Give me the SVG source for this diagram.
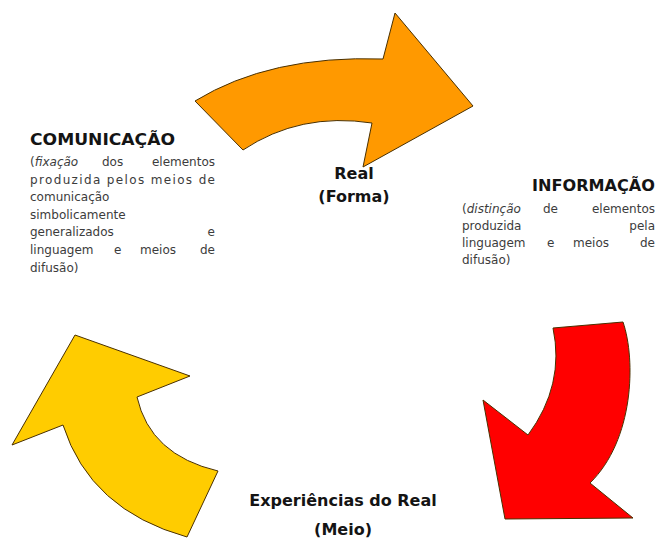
<svg xmlns="http://www.w3.org/2000/svg" width="660" height="542" viewBox="0 0 660 542">
<style>
.arrow{stroke:#4a3000;stroke-width:1;stroke-linejoin:miter}
.title{font-family:"DejaVu Sans","Liberation Sans",sans-serif;font-weight:bold;font-size:16px;fill:#141414}
.body{font-family:"DejaVu Sans","Liberation Sans",sans-serif;font-size:12px;fill:#3c3c3c}
.it{font-style:italic}
</style>
<rect width="660" height="542" fill="#ffffff"/>
<g id="connectors">
<path class="arrow" fill="#ff9900" d="M195,101 Q270,55 383,59 L395,13 L473,106 L363,167 L372,123 Q300,112 243,150 Z"/>
<path class="arrow" fill="#ff0000" d="M553,328 L623,322 C636,360 634,440 590,483 L633,518 L505,519 L483,400 L528,435 Q565,385 553,328 Z"/>
<path class="arrow" fill="#ffcc00" d="M75,335 L190,376 L137,397 Q150,455 218,471 L187,537 Q90,510 63,425 L12,445 Z"/>
</g>
<g id="comunicacao">
<text class="title" x="30" y="145" textLength="145" lengthAdjust="spacingAndGlyphs">COMUNICAÇÃO</text>
<text class="body" x="30" y="166">(<tspan class="it">fixação</tspan></text>
<text class="body" x="102" y="166">dos</text>
<text class="body" x="215" y="166" text-anchor="end">elementos</text>
<text class="body" x="30" y="183.6" textLength="185" lengthAdjust="spacing">produzida pelos meios de</text>
<text class="body" x="30" y="201.2">comunicação</text>
<text class="body" x="30" y="218.8">simbolicamente</text>
<text class="body" x="30" y="236.4">generalizados</text>
<text class="body" x="215" y="236.4" text-anchor="end">e</text>
<text class="body" x="30" y="254">linguagem</text>
<text class="body" x="114" y="254">e</text>
<text class="body" x="140" y="254">meios</text>
<text class="body" x="215" y="254" text-anchor="end">de</text>
<text class="body" x="30" y="271.6">difusão)</text>
</g>
<g id="real-forma">
<text class="title" x="354" y="179" text-anchor="middle">Real</text>
<text class="title" x="354" y="202" text-anchor="middle">(Forma)</text>
</g>
<g id="informacao">
<text class="title" x="655" y="191" text-anchor="end" textLength="123" lengthAdjust="spacingAndGlyphs">INFORMAÇÃO</text>
<text class="body" x="462" y="213">(<tspan class="it">distinção</tspan></text>
<text class="body" x="543" y="213">de</text>
<text class="body" x="655" y="213" text-anchor="end">elementos</text>
<text class="body" x="462" y="230">produzida</text>
<text class="body" x="655" y="230" text-anchor="end">pela</text>
<text class="body" x="462" y="247">linguagem</text>
<text class="body" x="547" y="247">e</text>
<text class="body" x="573" y="247">meios</text>
<text class="body" x="655" y="247" text-anchor="end">de</text>
<text class="body" x="462" y="264">difusão)</text>
</g>
<g id="experiencias">
<text class="title" x="343" y="506" text-anchor="middle">Experiências do Real</text>
<text class="title" x="343" y="535" text-anchor="middle">(Meio)</text>
</g>
</svg>
